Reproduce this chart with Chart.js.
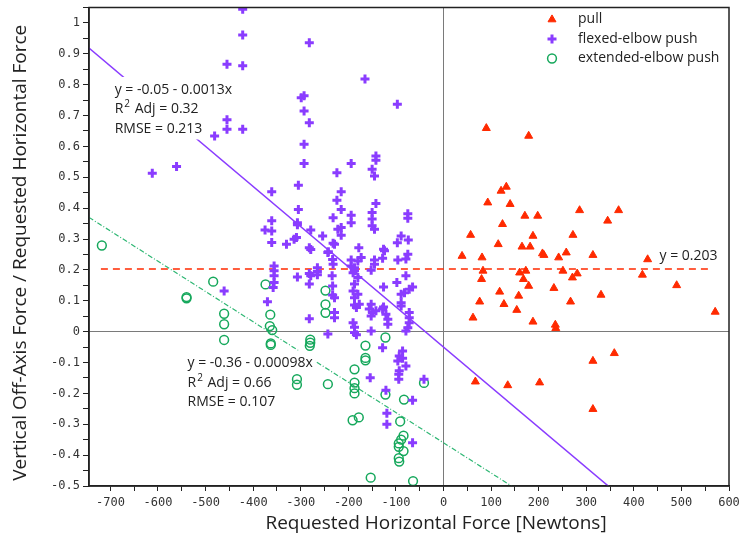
<!DOCTYPE html>
<html>
<head>
<meta charset="utf-8">
<script src="https://cdn.jsdelivr.net/npm/chart.js@4.4.1/dist/chart.umd.min.js"></script>
<style>
  html, body { margin: 0; padding: 0; background: #fff; }
</style>
</head>
<body>
<canvas id="forceChart" width="740" height="545"></canvas>
<script>
// [requested horizontal force (N), vertical off-axis / requested force]
const pull = [
  [90, 0.659], [179, 0.634], [132, 0.469], [121, 0.456], [93, 0.418], [140, 0.413],
  [171, 0.375], [198, 0.375], [286, 0.393], [368, 0.393], [345, 0.359], [124, 0.348],
  [57, 0.313], [188, 0.310], [272, 0.313], [115, 0.283], [165, 0.275], [182, 0.275],
  [39, 0.245], [81, 0.240], [208, 0.253], [211, 0.248], [242, 0.240], [258, 0.256],
  [314, 0.248], [429, 0.234], [83, 0.197], [80, 0.170], [160, 0.191], [173, 0.197],
  [168, 0.170], [179, 0.148], [251, 0.197], [271, 0.175], [281, 0.188], [232, 0.141],
  [418, 0.184], [490, 0.150], [118, 0.129], [158, 0.116], [331, 0.119], [76, 0.097],
  [127, 0.089], [267, 0.097], [154, 0.070], [62, 0.045], [188, 0.032], [571, 0.064],
  [235, 0.022], [236, 0.011], [314, -0.095], [359, -0.070], [67, -0.162], [135, -0.174],
  [202, -0.165], [314, -0.251]
];

const flexedPush = [
  [-422, 1.044], [-422, 0.961], [-282, 0.936], [-455, 0.866], [-422, 0.861], [-165, 0.818],
  [-97, 0.737], [-299, 0.758], [-293, 0.764], [-293, 0.715], [-282, 0.677], [-455, 0.686],
  [-455, 0.656], [-422, 0.656], [-481, 0.634], [-293, 0.607], [-293, 0.545], [-561, 0.535],
  [-612, 0.513], [-224, 0.515], [-194, 0.545], [-142, 0.569], [-142, 0.555], [-150, 0.526],
  [-145, 0.504], [-361, 0.453], [-305, 0.474], [-215, 0.453], [-224, 0.426], [-142, 0.415],
  [-215, 0.396], [-305, 0.396], [-232, 0.369], [-194, 0.377], [-194, 0.353], [-150, 0.386],
  [-150, 0.365], [-150, 0.343], [-145, 0.332], [-75, 0.382], [-75, 0.367], [-361, 0.359],
  [-307, 0.353], [-307, 0.346], [-375, 0.329], [-361, 0.326], [-279, 0.329], [-222, 0.332],
  [-215, 0.337], [-215, 0.312], [-254, 0.310], [-309, 0.305], [-314, 0.299], [-89, 0.310],
  [-97, 0.288], [-74, 0.297], [-361, 0.289], [-330, 0.283], [-232, 0.286], [-282, 0.272],
  [-279, 0.266], [-178, 0.272], [-126, 0.267], [-242, 0.259], [-229, 0.283], [-243, 0.256],
  [-233, 0.234], [-232, 0.218], [-194, 0.232], [-128, 0.238], [-145, 0.232], [-145, 0.218],
  [-96, 0.232], [-79, 0.235], [-75, 0.251], [-173, 0.240], [-180, 0.229], [-124, 0.262],
  [-356, 0.213], [-356, 0.197], [-356, 0.181], [-356, 0.159], [-358, 0.143], [-265, 0.207],
  [-265, 0.195], [-265, 0.184], [-307, 0.177], [-282, 0.188], [-279, 0.181], [-282, 0.154],
  [-234, 0.181], [-187, 0.207], [-194, 0.213], [-190, 0.191], [-187, 0.197], [-152, 0.199],
  [-79, 0.181], [-180, 0.175], [-98, 0.159], [-126, 0.145], [-65, 0.145], [-72, 0.137],
  [-82, 0.126], [-89, 0.121], [-233, 0.148], [-233, 0.119], [-229, 0.110], [-187, 0.154],
  [-190, 0.132], [-180, 0.121], [-187, 0.110], [-461, 0.132], [-370, 0.097], [-177, 0.089],
  [-187, 0.086], [-183, 0.078], [-89, 0.094], [-89, 0.083], [-152, 0.089], [-156, 0.073],
  [-149, 0.062], [-152, 0.051], [-142, 0.068], [-128, 0.073], [-121, 0.056], [-117, 0.040],
  [-117, 0.024], [-126, 0.080], [-72, 0.062], [-72, 0.045], [-72, 0.029], [-75, 0.013],
  [-79, 0.002], [-282, 0.042], [-229, 0.062], [-229, 0.045], [-243, -0.008], [-190, 0.029],
  [-187, 0.014], [-187, -0.003], [-183, -0.010], [-152, 0.002], [-128, -0.052], [-86, -0.063],
  [-93, -0.079], [-86, -0.086], [-96, -0.095], [-79, -0.111], [-93, -0.127], [-94, -0.138],
  [-94, -0.154], [-154, -0.149], [-121, -0.190], [-41, -0.154], [-119, -0.264], [-119, -0.300],
  [-65, -0.222], [-65, -0.360]
];

const extendedPush = [
  [-718, 0.279], [-484, 0.162], [-540, 0.112], [-540, 0.108], [-461, 0.058], [-461, 0.024],
  [-461, -0.027], [-374, 0.153], [-364, 0.055], [-365, 0.018], [-360, 0.005], [-363, -0.038],
  [-363, -0.043], [-280, -0.026], [-280, -0.036], [-281, -0.046], [-308, -0.154], [-308, -0.172],
  [-248, 0.133], [-248, 0.088], [-248, 0.061], [-243, -0.170], [-187, -0.122], [-187, -0.165],
  [-187, -0.183], [-187, -0.200], [-191, -0.287], [-178, -0.278], [-164, -0.045], [-164, -0.085],
  [-164, -0.093], [-153, -0.473], [-122, -0.019], [-122, -0.204], [-83, -0.220], [-91, -0.291],
  [-84, -0.337], [-89, -0.350], [-94, -0.362], [-94, -0.373], [-84, -0.387], [-94, -0.410],
  [-93, -0.421], [-64, -0.484], [-41, -0.166]
];

// linear fits: [intercept, slope]
const flexedFit = [-0.05, -0.0013];
const extendedFit = [-0.36, -0.00098];
const pullMean = 0.203;
const pullMeanSpan = [-720, 566];

const xRange = [-745, 600];
const yRange = [-0.5, 1.05];

const RED = "#ff2a00";
const PURPLE = "#8a3cff";
const GREEN = "#16a85c";
const INK = "#222";

const toPoints = (rows) => rows.map(([x, y]) => ({ x, y }));
const fitLine = (fit) => xRange.map((x) => ({ x, y: fit[0] + fit[1] * x }));

// keep only ticks on the 50 N / 0.05 grid
const snapTicks = (step) => (scale) => {
  scale.ticks = scale.ticks.filter((t) => Math.abs(t.value / step - Math.round(t.value / step)) < 1e-6);
};

const monoFont = { family: "'DejaVu Sans Mono', monospace", size: 12 };
const textFont = "'Open Sans', sans-serif";

// draws one marker of a series (used by the legend)
function marker(ctx, style, x, y) {
  ctx.save();
  if (style === "triangle") {
    const r = 4.6;
    ctx.fillStyle = RED;
    ctx.strokeStyle = RED;
    ctx.lineWidth = 1;
    ctx.beginPath();
    ctx.moveTo(x, y - r);
    ctx.lineTo(x + r * 0.866, y + r * 0.5);
    ctx.lineTo(x - r * 0.866, y + r * 0.5);
    ctx.closePath();
    ctx.fill();
    ctx.stroke();
  } else if (style === "cross") {
    ctx.strokeStyle = PURPLE;
    ctx.lineWidth = 3;
    ctx.beginPath();
    ctx.moveTo(x - 4.5, y);
    ctx.lineTo(x + 4.5, y);
    ctx.moveTo(x, y - 4.5);
    ctx.lineTo(x, y + 4.5);
    ctx.stroke();
  } else {
    ctx.strokeStyle = GREEN;
    ctx.lineWidth = 1.5;
    ctx.beginPath();
    ctx.arc(x, y, 4.4, 0, Math.PI * 2);
    ctx.stroke();
  }
  ctx.restore();
}

// multi-line fit label on a white box; "R^2" gets a raised 2
function fitLabel(ctx, lines, left, top) {
  const size = 14;
  const lh = 19.5;
  ctx.save();
  ctx.font = `${size}px ${textFont}`;
  let w = 0;
  lines.forEach((l) => { w = Math.max(w, ctx.measureText(l.replace("R^2", "R2")).width); });
  ctx.fillStyle = "#fff";
  ctx.fillRect(left - 3, top - 4, w + 6, lines.length * lh + 4);
  ctx.fillStyle = INK;
  ctx.textBaseline = "middle";
  lines.forEach((l, i) => {
    const y = top + lh * i + lh / 2 - 1;
    if (l.startsWith("R^2")) {
      ctx.fillText("R", left, y);
      const rw = ctx.measureText("R").width;
      ctx.font = `${size - 4}px ${textFont}`;
      ctx.fillText("2", left + rw + 1, y - 5);
      const tw = ctx.measureText("2").width;
      ctx.font = `${size}px ${textFont}`;
      ctx.fillText(l.slice(3), left + rw + tw + 2, y);
    } else {
      ctx.fillText(l, left, y);
    }
  });
  ctx.restore();
}

const decorations = {
  id: "decorations",
  beforeDatasetDraw(chart, args) {
    // boxes sit over the fit lines but under the markers
    if (args.index !== 2) return;
    const { ctx, scales } = chart;
    const x = scales.x, y = scales.y;
    fitLabel(ctx, ["y = -0.05 - 0.0013x", "R^2 Adj = 0.32", "RMSE = 0.213"],
      x.getPixelForValue(-691), y.getPixelForValue(0.812));
    fitLabel(ctx, ["y = -0.36 - 0.00098x", "R^2 Adj = 0.66", "RMSE = 0.107"],
      x.getPixelForValue(-538), y.getPixelForValue(-0.074));
  },
  afterDraw(chart) {
    const { ctx, chartArea: a, scales } = chart;
    ctx.save();
    // frame
    ctx.strokeStyle = INK;
    ctx.lineWidth = 1.5;
    ctx.strokeRect(a.left, a.top, a.right - a.left, a.bottom - a.top);

    // mean label
    ctx.fillStyle = INK;
    ctx.font = `14px ${textFont}`;
    ctx.textBaseline = "middle";
    ctx.fillText("y = 0.203", scales.x.getPixelForValue(454), scales.y.getPixelForValue(0.246));

    // legend
    const items = [["triangle", "pull"], ["cross", "flexed-elbow push"], ["circle", "extended-elbow push"]];
    items.forEach(([style, label], i) => {
      const ly = a.top + 12 + i * 19.5;
      marker(ctx, style, a.right - 177, ly);
      ctx.fillStyle = INK;
      ctx.fillText(label, a.right - 151, ly);
    });

    // axis titles
    ctx.font = `19px ${textFont}`;
    ctx.textAlign = "center";
    ctx.fillText("Requested Horizontal Force [Newtons]", a.left + 347, 524);
    ctx.translate(21, (a.top + a.bottom) / 2 + 6);
    ctx.rotate(-Math.PI / 2);
    ctx.fillText("Vertical Off-Axis Force / Requested Horizontal Force", 0, 0);
    ctx.restore();
  }
};

new Chart(document.getElementById("forceChart"), {
  type: "scatter",
  data: {
    datasets: [
      {
        label: "pull",
        data: toPoints(pull),
        pointStyle: "triangle",
        pointRadius: 4.6,
        backgroundColor: RED,
        borderColor: RED,
        borderWidth: 1,
      },
      {
        label: "flexed-elbow push",
        data: toPoints(flexedPush),
        pointStyle: "cross",
        pointRadius: 4.5,
        borderColor: PURPLE,
        borderWidth: 3,
      },
      {
        label: "extended-elbow push",
        data: toPoints(extendedPush),
        pointStyle: "circle",
        pointRadius: 4.4,
        backgroundColor: "rgba(0,0,0,0)",
        borderColor: GREEN,
        borderWidth: 1.5,
      },
      {
        data: fitLine(flexedFit),
        showLine: true,
        pointRadius: 0,
        borderColor: PURPLE,
        borderWidth: 1.5,
      },
      {
        data: fitLine(extendedFit),
        showLine: true,
        pointRadius: 0,
        borderColor: "#2fb774",
        borderWidth: 1.2,
        borderDash: [5, 2, 1, 2],
      },
      {
        data: pullMeanSpan.map((x) => ({ x, y: pullMean })),
        showLine: true,
        pointRadius: 0,
        borderColor: RED,
        borderWidth: 1.6,
        borderDash: [7, 5],
      },
    ],
  },
  options: {
    responsive: false,
    animation: false,
    devicePixelRatio: 1,
    layout: { padding: { top: 6, right: 11, left: 0, bottom: 0 } },
    plugins: { legend: { display: false }, tooltip: { enabled: false } },
    scales: {
      x: {
        type: "linear",
        min: xRange[0],
        max: xRange[1],
        afterBuildTicks: snapTicks(50),
        afterFit: (s) => {
          s.height = 59;
          s.paddingLeft = 0;
          s.paddingRight = 0;
        },
        ticks: {
          stepSize: 50,
          includeBounds: false,
          autoSkip: false,
          maxRotation: 0,
          padding: 5,
          color: "#333",
          font: monoFont,
          callback: (v) => (v % 100 === 0 ? String(v) : ""),
        },
        grid: {
          color: (c) => (c.tick && c.tick.value === 0 ? "#7a7a7a" : "rgba(0,0,0,0)"),
          tickColor: INK,
          tickLength: 5,
        },
        border: { color: INK, width: 1.5 },
      },
      y: {
        type: "linear",
        min: yRange[0],
        max: yRange[1],
        afterBuildTicks: snapTicks(0.05),
        afterFit: (s) => {
          s.width = 89;
          s.paddingTop = 0;
          s.paddingBottom = 0;
        },
        ticks: {
          stepSize: 0.05,
          includeBounds: false,
          autoSkip: false,
          padding: 3,
          color: "#333",
          font: monoFont,
          callback: (v) => {
            const t = Math.round(v * 100);
            return t % 10 === 0 ? String(Number((t / 100).toFixed(1))) : "";
          },
        },
        grid: {
          color: (c) => (c.tick && c.tick.value === 0 ? "#7a7a7a" : "rgba(0,0,0,0)"),
          tickColor: INK,
          tickLength: 6,
        },
        border: { color: INK, width: 1.5 },
      },
    },
  },
  plugins: [decorations],
});
</script>
</body>
</html>
